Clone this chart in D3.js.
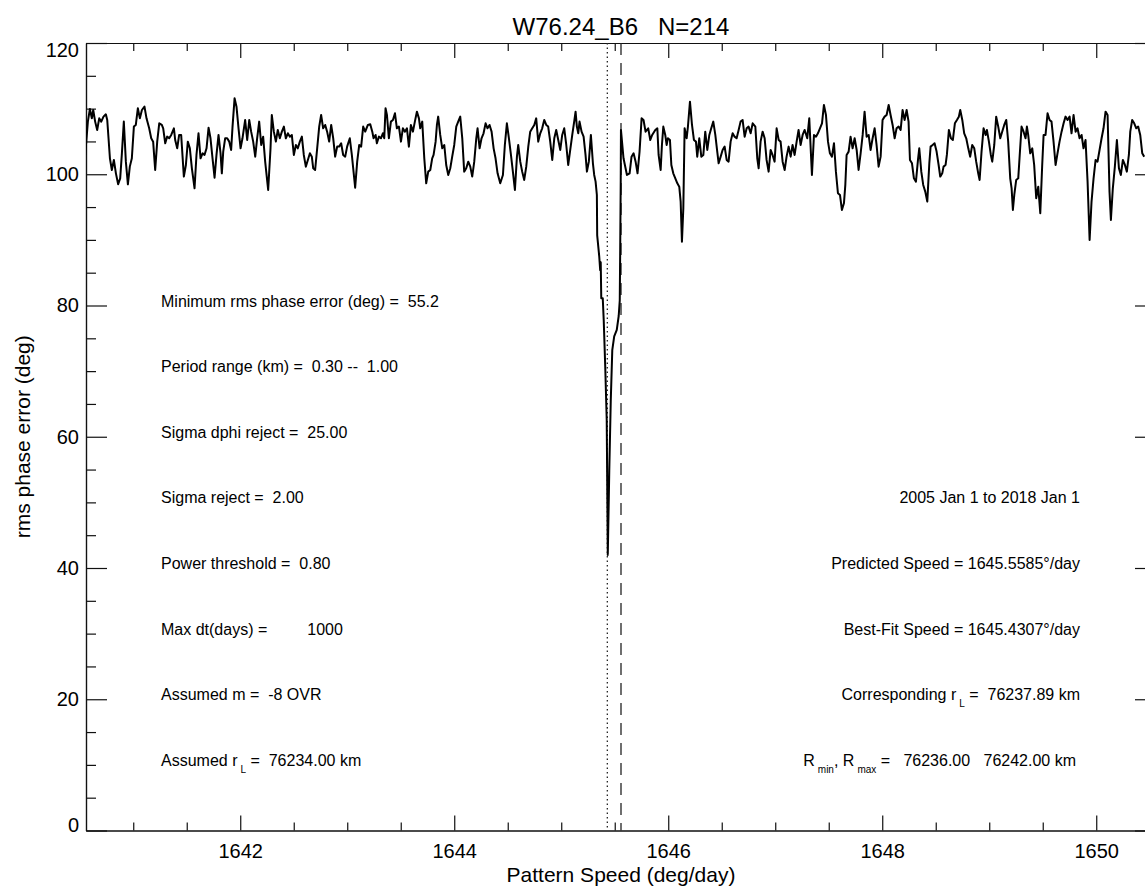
<!DOCTYPE html>
<html>
<head>
<meta charset="utf-8">
<script src="https://cdn.jsdelivr.net/npm/d3@7"></script>
<style>
  body { margin: 0; background: #fff; }
  text, tspan { font-family: "Liberation Sans", Arial, Helvetica, sans-serif; fill: #000; }
</style>
</head>
<body>
<div id="chart"></div>
<script>
// rms phase error vs trial pattern speed
var phaseScan = [
  [1640.551,102.94],[1640.576,108.02],[1640.595,109.95],[1640.613,108.52],[1640.626,109.79],[1640.644,108.02],[1640.663,106.75],[1640.682,108.52],[1640.701,108.02],[1640.722,108.78],[1640.744,109.13],[1640.757,108.27],[1640.769,105.48],[1640.782,102.43],[1640.800,100.65],[1640.819,102.18],[1640.838,100.14],[1640.859,98.47],[1640.878,99.38],[1640.894,103.19],[1640.912,108.02],[1640.931,101.92],[1640.950,98.47],[1640.968,101.16],[1640.987,102.43],[1641.006,107.26],[1641.024,107.51],[1641.043,110.05],[1641.062,108.52],[1641.081,109.79],[1641.105,110.30],[1641.124,108.52],[1641.149,107.0],[1641.168,105.48],[1641.186,104.97],[1641.205,100.65],[1641.224,104.97],[1641.243,107.76],[1641.267,107.51],[1641.280,107.0],[1641.299,104.72],[1641.317,105.73],[1641.336,105.48],[1641.355,105.99],[1641.380,107.0],[1641.392,105.22],[1641.411,103.95],[1641.429,105.99],[1641.448,105.99],[1641.473,99.64],[1641.492,101.41],[1641.510,104.97],[1641.529,103.95],[1641.548,100.91],[1641.573,97.86],[1641.591,102.94],[1641.610,106.24],[1641.629,102.43],[1641.648,103.19],[1641.666,102.94],[1641.685,103.95],[1641.704,107.10],[1641.722,105.48],[1641.741,102.43],[1641.760,99.48],[1641.778,102.94],[1641.797,105.99],[1641.816,103.19],[1641.828,100.14],[1641.841,103.45],[1641.859,105.48],[1641.878,105.48],[1641.897,104.97],[1641.915,103.70],[1641.928,107.26],[1641.947,111.57],[1641.965,110.30],[1641.984,107.0],[1642.003,103.95],[1642.021,105.48],[1642.046,108.27],[1642.065,105.22],[1642.084,108.27],[1642.102,106.49],[1642.121,104.97],[1642.140,102.68],[1642.158,105.48],[1642.177,108.02],[1642.196,104.46],[1642.214,105.73],[1642.233,101.92],[1642.261,97.60],[1642.283,103.95],[1642.295,109.03],[1642.314,106.49],[1642.333,104.97],[1642.351,106.75],[1642.370,105.48],[1642.389,106.49],[1642.408,107.26],[1642.426,105.48],[1642.445,106.24],[1642.464,105.73],[1642.482,105.99],[1642.501,102.94],[1642.520,104.46],[1642.538,103.95],[1642.557,104.97],[1642.576,105.73],[1642.594,102.94],[1642.613,101.16],[1642.632,102.18],[1642.651,103.19],[1642.669,102.68],[1642.682,100.91],[1642.700,100.65],[1642.719,103.95],[1642.738,107.26],[1642.756,109.03],[1642.775,107.0],[1642.794,107.51],[1642.812,106.49],[1642.831,104.97],[1642.850,107.51],[1642.869,105.48],[1642.887,102.68],[1642.906,104.21],[1642.925,104.21],[1642.943,104.72],[1642.962,102.94],[1642.981,102.68],[1642.999,104.21],[1643.024,105.48],[1643.043,102.94],[1643.074,97.96],[1643.093,101.92],[1643.112,104.46],[1643.130,104.21],[1643.149,107.26],[1643.168,106.49],[1643.193,107.51],
  [1643.215,107.61],[1643.234,106.49],[1643.246,105.48],[1643.265,105.99],[1643.277,104.72],[1643.296,105.73],[1643.315,105.48],[1643.333,106.24],[1643.346,105.48],[1643.358,110.05],[1643.371,109.03],[1643.389,105.48],[1643.408,108.02],[1643.427,108.27],[1643.446,109.29],[1643.464,107.0],[1643.483,107.26],[1643.502,104.97],[1643.520,107.0],[1643.539,106.49],[1643.558,107.0],[1643.576,104.21],[1643.595,107.51],[1643.614,106.49],[1643.632,108.02],[1643.651,109.54],[1643.670,108.52],[1643.682,107.0],[1643.701,108.02],[1643.720,102.43],[1643.738,98.62],[1643.757,100.40],[1643.776,100.65],[1643.794,102.43],[1643.807,102.94],[1643.826,104.97],[1643.838,107.51],[1643.850,108.78],[1643.869,105.99],[1643.888,103.95],[1643.907,104.46],[1643.925,101.41],[1643.944,99.89],[1643.963,100.91],[1643.981,102.68],[1644.000,104.46],[1644.019,107.26],[1644.037,108.02],[1644.056,108.78],[1644.075,105.48],[1644.093,100.40],[1644.112,100.91],[1644.131,101.92],[1644.150,101.16],[1644.168,99.64],[1644.187,101.92],[1644.206,105.48],[1644.218,107.0],[1644.237,103.95],[1644.255,105.48],[1644.274,106.24],[1644.293,107.76],[1644.311,107.0],[1644.330,107.51],[1644.349,106.49],[1644.368,103.95],[1644.386,102.43],[1644.405,100.14],[1644.430,98.62],[1644.455,99.89],[1644.473,104.46],[1644.492,107.76],[1644.511,105.48],[1644.530,102.94],[1644.548,100.40],[1644.567,97.60],[1644.586,102.68],[1644.598,104.46],[1644.617,101.92],[1644.635,100.40],[1644.654,99.13],[1644.673,101.16],[1644.692,104.21],[1644.710,106.49],[1644.729,107.0],[1644.748,107.51],[1644.766,108.52],[1644.785,104.97],[1644.804,106.24],[1644.822,107.0],[1644.841,108.27],[1644.860,107.51],[1644.878,107.26],[1644.897,104.97],[1644.916,102.18],[1644.935,105.48],[1644.953,106.75],[1644.972,105.22],[1644.991,103.70],[1645.009,105.99],[1645.028,107.0],[1645.047,104.46],[1645.065,101.41],[1645.084,103.70],[1645.103,105.99],[1645.121,108.02],[1645.134,109.54],[1645.146,107.26],[1645.159,106.24],[1645.171,108.02],[1645.190,106.49],[1645.209,105.73],[1645.227,102.94],[1645.240,100.40],[1645.258,101.92],[1645.277,105.99],[1645.296,101.67],[1645.308,99.89],[1645.321,98.87],[1645.333,96.84],
  [1645.336,90.7],[1645.355,87.5],[1645.364,85.4],[1645.369,86.6],[1645.374,81.1],[1645.388,81.1],[1645.397,77.8],[1645.411,70.8],[1645.425,62.6],[1645.435,42.0],[1645.449,54.9],[1645.463,65.6],[1645.477,73.2],[1645.495,75.3],[1645.519,76.3],[1645.537,78.4],[1645.547,80.8],[1645.551,88.5],[1645.556,99.1],[1645.558,106.75],
  [1645.582,102.43],[1645.614,99.89],[1645.639,100.14],[1645.657,102.68],[1645.676,103.19],[1645.695,101.92],[1645.713,100.14],[1645.732,103.45],[1645.751,108.52],[1645.769,108.27],[1645.788,106.49],[1645.813,107.0],[1645.832,105.22],[1645.850,105.99],
  [1645.879,106.75],[1645.898,107.0],[1645.910,102.94],[1645.929,100.65],[1645.941,104.46],[1645.954,107.26],[1645.972,105.99],[1645.985,104.46],[1645.997,105.48],[1646.016,105.22],[1646.029,101.41],[1646.047,100.14],[1646.066,99.38],[1646.085,98.62],[1646.103,98.11],[1646.116,95.83],[1646.128,89.73],[1646.141,94.81],[1646.153,107.0],[1646.172,105.48],[1646.184,107.26],[1646.203,111.06],[1646.222,107.51],[1646.240,105.22],[1646.259,104.97],[1646.271,102.68],[1646.290,105.48],[1646.309,102.68],[1646.328,102.94],[1646.346,106.49],[1646.365,103.70],[1646.384,105.99],[1646.402,107.0],[1646.421,108.02],[1646.440,105.99],[1646.458,103.45],[1646.471,101.67],[1646.490,102.68],[1646.508,103.70],[1646.527,104.21],[1646.546,102.18],[1646.564,101.92],[1646.583,104.97],[1646.602,106.24],[1646.620,105.73],[1646.639,105.48],[1646.658,106.75],[1646.676,108.02],[1646.695,108.27],[1646.714,105.73],[1646.733,107.0],[1646.751,107.26],[1646.770,106.24],[1646.789,107.76],[1646.814,107.26],[1646.832,102.43],[1646.845,100.91],[1646.863,104.97],[1646.882,106.49],[1646.901,105.48],[1646.919,102.18],[1646.938,100.40],[1646.957,103.70],[1646.975,102.94],[1646.994,101.92],[1647.013,107.0],[1647.032,105.22],[1647.050,104.97],[1647.069,101.92],[1647.088,100.65],[1647.106,102.68],[1647.125,104.21],[1647.144,102.68],[1647.162,104.46],[1647.181,102.94],[1647.200,104.97],[1647.218,106.75],[1647.237,104.46],[1647.256,105.99],[1647.275,106.75],[1647.299,105.48],[1647.318,108.52],[1647.343,99.89],[1647.362,105.99],[1647.381,105.73],[1647.399,106.24],[1647.418,107.0],[1647.437,107.76],[1647.455,110.56],[1647.474,109.03],[1647.493,104.97],[1647.511,103.19],[1647.530,102.68],[1647.549,104.72],[1647.567,100.40],[1647.586,97.10],[1647.605,96.84],[1647.623,94.56],[1647.642,95.57],[1647.655,98.37],[1647.667,102.94],[1647.686,103.45],[1647.704,105.73],[1647.723,103.95],[1647.742,105.48],[1647.761,103.70],[1647.779,100.65],[1647.798,103.19],[1647.817,105.99],[1647.835,109.54],[1647.854,105.73],[1647.873,105.99],[1647.891,103.70],[1647.910,105.48],[1647.929,107.0],[1647.947,104.46],[1647.966,101.16],[1647.985,102.68],[1648.003,108.27],[1648.022,108.78],[1648.041,109.03],[1648.060,110.56],[1648.078,109.03],[1648.097,107.51],[1648.116,105.48],[1648.134,107.0],[1648.153,107.26],[1648.172,106.75],[1648.190,109.79],[1648.209,108.27],[1648.228,109.79],[1648.246,108.02],[1648.259,102.18],[1648.278,101.67],[1648.296,99.38],[1648.315,98.87],[1648.334,102.18],[1648.346,103.95],[1648.365,100.40],[1648.383,98.37],[1648.402,97.35],[1648.421,95.83],[1648.440,101.67],[1648.452,104.21],[1648.471,104.46],[1648.489,104.72],[1648.508,103.45],[1648.527,101.41],
  [1648.542,99.64],[1648.561,100.14],[1648.573,101.16],[1648.592,101.41],[1648.604,102.94],[1648.623,106.75],[1648.642,105.48],[1648.660,105.22],[1648.679,107.76],[1648.698,108.27],[1648.716,108.78],[1648.729,109.79],[1648.748,108.27],[1648.766,106.24],[1648.785,105.48],[1648.804,103.95],[1648.822,102.68],[1648.841,104.46],[1648.860,103.95],[1648.878,101.92],[1648.897,100.14],[1648.910,99.13],[1648.928,103.45],[1648.947,107.0],[1648.966,105.99],[1648.978,106.75],[1648.997,104.97],[1649.015,102.94],[1649.028,101.92],[1649.047,104.46],[1649.065,108.78],[1649.084,107.26],[1649.103,105.48],[1649.121,106.49],[1649.140,107.51],[1649.159,108.27],[1649.177,104.97],[1649.196,99.38],[1649.209,97.86],[1649.221,94.56],[1649.234,96.84],[1649.252,99.13],[1649.271,99.38],[1649.283,102.43],[1649.302,107.26],[1649.321,106.49],[1649.339,105.48],[1649.352,107.26],[1649.364,105.99],[1649.383,103.19],[1649.402,103.95],[1649.420,101.41],[1649.439,96.34],[1649.458,98.11],[1649.477,94.05],[1649.495,101.41],[1649.508,105.99],[1649.526,105.99],[1649.545,109.29],[1649.564,108.27],[1649.582,108.02],[1649.601,104.97],[1649.620,101.41],[1649.638,103.19],[1649.657,104.97],[1649.676,106.49],[1649.695,107.76],[1649.713,108.78],[1649.732,108.27],[1649.751,108.78],[1649.769,106.24],[1649.788,109.03],[1649.807,106.49],[1649.825,107.0],[1649.844,105.48],[1649.863,105.99],[1649.881,103.95],[1649.900,105.22],[1649.919,98.87],[1649.938,89.99],[1649.956,95.83],[1649.975,99.38],[1649.994,102.18],[1650.012,101.92],[1650.031,103.70],[1650.050,105.48],[1650.068,107.0],[1650.087,109.54],[1650.106,109.03],[1650.124,97.35],[1650.137,93.04],[1650.155,97.86],[1650.174,101.16],[1650.193,105.22],[1650.212,100.91],[1650.230,99.89],[1650.249,102.18],[1650.268,101.41],[1650.286,100.40],[1650.305,102.94],[1650.318,106.49],[1650.336,108.27],[1650.355,107.76],[1650.374,107.0],[1650.392,107.26],[1650.411,105.99],[1650.430,103.19],[1650.448,102.68]
];

var predictedSpeed = 1645.5585;
var bestFitSpeed = 1645.4307;
var speedRange = [1640.5585, 1650.5585];
var errRange = [0, 120];
var xMajorTicks = [1642, 1644, 1646, 1648, 1650];
var yMajorTicks = [0, 20, 40, 60, 80, 100, 120];
var titleText = "W76.24_B6   N=214";
var xLabel = "Pattern Speed (deg/day)";
var yLabel = "rms phase error (deg)";
// {..} marks a subscript
var leftNotes = [
  "Minimum rms phase error (deg) =  55.2",
  "Period range (km) =  0.30 --  1.00",
  "Sigma dphi reject =  25.00",
  "Sigma reject =  2.00",
  "Power threshold =  0.80",
  "Max dt(days) =         1000",
  "Assumed m =  -8 OVR",
  "Assumed r{L} =  76234.00 km"
];
var rightNotes = [
  "2005 Jan 1 to 2018 Jan 1",
  "Predicted Speed = 1645.5585\u00b0/day",
  "Best-Fit Speed = 1645.4307\u00b0/day",
  "Corresponding r{L} =  76237.89 km",
  "R{min}, R{max} =   76236.00   76242.00 km"
];

var Width = 1145, Height = 886;
var Plot = {left: 86, right: 1156, top: 43, bottom: 830.5};

var x = d3.scaleLinear().domain(speedRange).range([Plot.left, Plot.right]);
var y = d3.scaleLinear().domain(errRange).range([Plot.bottom, Plot.top]);

var svg = d3.select("#chart").append("svg")
            .attr("width", Width)
            .attr("height", Height)
            .style("display", "block");

svg.append("clipPath").attr("id", "plotclip")
   .append("rect")
   .attr("x", Plot.left).attr("y", Plot.top)
   .attr("width", Plot.right - Plot.left).attr("height", Plot.bottom - Plot.top);

var xMinor = d3.range(1640.5, 1651, 0.5).filter(v => v > speedRange[0] && v < speedRange[1] && xMajorTicks.indexOf(v) < 0);
var yMinor = d3.range(0, 121, 5).filter(v => yMajorTicks.indexOf(v) < 0);

function styleAxis(g){
  g.selectAll(".domain").attr("stroke", "#111").attr("stroke-width", 1.2);
  g.selectAll(".tick line").attr("stroke", "#111").attr("stroke-width", 1.2);
  g.selectAll(".tick text").style("font-size", "20px").attr("fill", "#000");
}

// bottom
svg.append("g").attr("transform", `translate(0,${Plot.bottom})`)
  .call(d3.axisBottom(x).tickValues(xMajorTicks).tickSize(-15).tickSizeOuter(0).tickPadding(13).tickFormat(d3.format("d")))
  .call(styleAxis);
svg.append("g").attr("transform", `translate(0,${Plot.bottom})`)
  .call(d3.axisBottom(x).tickValues(xMinor).tickSize(-8).tickSizeOuter(0).tickFormat(""))
  .call(styleAxis);
// top
svg.append("g").attr("transform", `translate(0,${Plot.top})`)
  .call(d3.axisTop(x).tickValues(xMajorTicks).tickSize(-15).tickSizeOuter(0).tickFormat(""))
  .call(styleAxis);
svg.append("g").attr("transform", `translate(0,${Plot.top})`)
  .call(d3.axisTop(x).tickValues(xMinor).tickSize(-8).tickSizeOuter(0).tickFormat(""))
  .call(styleAxis);
// left
var gl = svg.append("g").attr("transform", `translate(${Plot.left},0)`)
  .call(d3.axisLeft(y).tickValues(yMajorTicks).tickSize(-21).tickSizeOuter(0).tickPadding(7))
  .call(styleAxis);
svg.append("g").attr("transform", `translate(${Plot.left},0)`)
  .call(d3.axisLeft(y).tickValues(yMinor).tickSize(-10).tickSizeOuter(0).tickFormat(""))
  .call(styleAxis);
// right
svg.append("g").attr("transform", `translate(${Plot.right},0)`)
  .call(d3.axisRight(y).tickValues(yMajorTicks).tickSize(-21).tickSizeOuter(0).tickFormat(""))
  .call(styleAxis);
svg.append("g").attr("transform", `translate(${Plot.right},0)`)
  .call(d3.axisRight(y).tickValues(yMinor).tickSize(-10).tickSizeOuter(0).tickFormat(""))
  .call(styleAxis);

// end labels sit inside the frame like IDL does
gl.selectAll(".tick text").attr("dy", d => d === 0 ? "0.05em" : d === 120 ? "0.65em" : "0.32em");

// vertical markers
svg.append("line")
   .attr("x1", x(bestFitSpeed)).attr("x2", x(bestFitSpeed))
   .attr("y1", Plot.top).attr("y2", Plot.bottom)
   .attr("stroke", "#222").attr("stroke-width", 1.3)
   .attr("stroke-dasharray", "1.5,3");
svg.append("line")
   .attr("x1", x(predictedSpeed)).attr("x2", x(predictedSpeed))
   .attr("y1", Plot.top).attr("y2", Plot.bottom)
   .attr("stroke", "#222").attr("stroke-width", 1.3)
   .attr("stroke-dasharray", "12,8");

// the scan curve
var line = d3.line().x(d => x(d[0])).y(d => y(d[1]));
svg.append("path")
   .datum(phaseScan)
   .attr("clip-path", "url(#plotclip)")
   .attr("d", line)
   .attr("fill", "none")
   .attr("stroke", "#000")
   .attr("stroke-width", 2)
   .attr("stroke-linejoin", "round");

// titles
svg.append("text")
   .attr("x", (Plot.left + Plot.right) / 2).attr("y", 35)
   .attr("text-anchor", "middle")
   .style("font-size", "24px").style("white-space", "pre")
   .text(titleText);
svg.append("text")
   .attr("x", (Plot.left + Plot.right) / 2).attr("y", 882)
   .attr("text-anchor", "middle")
   .style("font-size", "21px")
   .text(xLabel);
svg.append("text")
   .attr("transform", `translate(30,${(Plot.top + Plot.bottom) / 2}) rotate(-90)`)
   .attr("text-anchor", "middle")
   .style("font-size", "21px")
   .text(yLabel);

function writeNote(sel, str){
  var parts = str.split(/(\{[^}]*\})/).filter(s => s.length);
  var shifted = false;
  parts.forEach(function(p){
    if(p[0] === "{"){
      sel.append("tspan").attr("dx", 3).attr("dy", 7).style("font-size", "10px").attr("fill", "#000").text(p.slice(1, -1));
      shifted = true;
    } else {
      var t = sel.append("tspan").attr("fill", "#000").text(p);
      if(shifted){ t.attr("dy", -7); shifted = false; }
    }
  });
}

leftNotes.forEach(function(s, i){
  var t = svg.append("text")
     .attr("x", 161).attr("y", y(80 - 10 * i) + 1)
     .style("font-size", "16px").style("white-space", "pre");
  writeNote(t, s);
});
rightNotes.forEach(function(s, i){
  var t = svg.append("text")
     .attr("x", i === rightNotes.length - 1 ? 1076 : 1080).attr("y", y(50 - 10 * i) + 1)
     .attr("text-anchor", "end")
     .style("font-size", "16px").style("white-space", "pre");
  writeNote(t, s);
});
</script>
</body>
</html>
